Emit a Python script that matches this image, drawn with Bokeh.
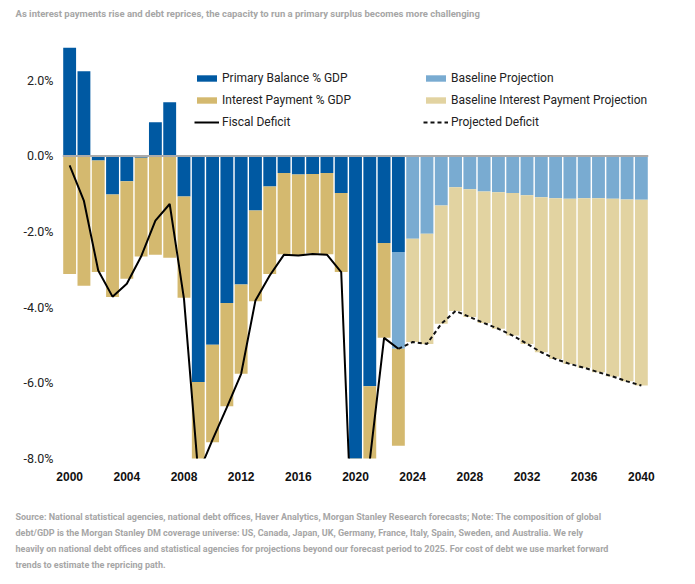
import numpy as np
from bokeh.plotting import figure
from bokeh.models import (Span, Title, Legend, LegendItem, FixedTicker,
                          PrintfTickFormatter, Range1d)
from bokeh.embed import file_html
from bokeh.resources import INLINE

# ---------------- data ----------------
years = list(range(2000, 2041))
actual_years = list(range(2000, 2024))
proj_years = list(range(2023, 2041))
base_int_years = list(range(2024, 2041))

primary_balance = [2.86, 2.24, -0.12, -1.02, -0.67, -0.05, 0.89, 1.42, -1.07, -5.98,
                   -4.99, -3.89, -3.40, -1.44, -0.81, -0.45, -0.49, -0.48, -0.45, -0.98,
                   -10.0, -6.09, -2.30, -2.54]
interest_payment = [3.12, 3.43, 2.95, 2.71, 2.58, 2.61, 2.61, 2.69, 2.68, 2.42,
                    2.58, 2.73, 2.36, 2.40, 2.31, 2.15, 2.13, 2.10, 2.15, 2.09,
                    2.40, 2.00, 2.51, 2.56]
fiscal_deficit = [-0.25, -1.19, -3.03, -3.72, -3.38, -2.66, -1.71, -1.27, -3.78, -8.40,
                  -7.50, -6.65, -5.76, -3.82, -3.16, -2.61, -2.63, -2.59, -2.61, -3.07,
                  -12.4, -8.05, -4.81, -5.10]
baseline_projection = [-2.56, -2.19, -2.06, -1.31, -0.83, -0.88, -0.94, -0.96, -0.98,
                       -1.04, -1.09, -1.12, -1.13, -1.12, -1.12, -1.13, -1.15, -1.16]
baseline_interest = [2.73, 2.91, 3.13, 3.27, 3.38, 3.48, 3.61, 3.77, 3.93,
                     4.10, 4.25, 4.37, 4.48, 4.60, 4.70, 4.81, 4.91]
projected_deficit = [-5.10, -4.92, -4.97, -4.44, -4.10, -4.26, -4.42, -4.57, -4.75,
                     -4.97, -5.19, -5.37, -5.50, -5.60, -5.72, -5.83, -5.96, -6.07]

y_ticks = [-8, -6, -4, -2, 0, 2]
x_ticks = list(range(2000, 2041, 4))

title_text = ("As interest payments rise and debt reprices, the capacity to run a "
              "primary surplus becomes more challenging")
footnote_lines = [
    "Source: National statistical agencies, national debt offices, Haver Analytics, Morgan Stanley Research forecasts; Note: The composition of global",
    "debt/GDP is the Morgan Stanley DM coverage universe: US, Canada, Japan, UK, Germany, France, Italy, Spain, Sweden, and Australia. We rely",
    "heavily on national debt offices and statistical agencies for projections beyond our forecast period to 2025. For cost of debt we use market forward",
    "trends to estimate the repricing path.",
]

# ---------------- stacking (positives up, negatives down) ----------------
idx = {y: i for i, y in enumerate(years)}
pos = np.zeros(len(years))
neg = np.zeros(len(years))


def stack(yrs, vals):
    bottoms, tops = [], []
    for y, v in zip(yrs, vals):
        i = idx[y]
        if v >= 0:
            b = pos[i]; t = b + v; pos[i] = t
        else:
            b = neg[i]; t = b + v; neg[i] = t
        bottoms.append(b); tops.append(t)
    return bottoms, tops


pb_b, pb_t = stack(actual_years, primary_balance)
bp_b, bp_t = stack(proj_years, baseline_projection)
ip_b, ip_t = stack(actual_years, [-v for v in interest_payment])
bi_b, bi_t = stack(base_int_years, [-v for v in baseline_interest])

DARK_BLUE = "#0059a2"
TAN = "#d4b96f"
LIGHT_BLUE = "#79abd1"
LIGHT_TAN = "#e2d3a1"
NOTE_FONT = "Roboto"
NOTE_COLOR = "#a6a6a6"

# ---------------- figure ----------------
p = figure(width=695, height=584, output_backend="svg", toolbar_location=None,
           x_range=Range1d(1999.5, 2040.5), y_range=Range1d(-8, 3),
           min_border_left=62, min_border_right=47, min_border_top=42,
           min_border_bottom=126)
p.outline_line_color = None
p.xgrid.visible = False
p.ygrid.visible = False

W = 0.9
r_pb = p.vbar(x=actual_years, bottom=pb_b, top=pb_t, width=W, fill_color=DARK_BLUE, line_color=None)
r_bp = p.vbar(x=proj_years, bottom=bp_b, top=bp_t, width=W, fill_color=LIGHT_BLUE, line_color=None)
r_ip = p.vbar(x=actual_years, bottom=ip_b, top=ip_t, width=W, fill_color=TAN, line_color=None)
r_bi = p.vbar(x=base_int_years, bottom=bi_b, top=bi_t, width=W, fill_color=LIGHT_TAN, line_color=None)

r_fd = p.line(actual_years, fiscal_deficit, line_color="black", line_width=2)
r_pd = p.line(proj_years, projected_deficit, line_color="#111111", line_width=2, line_dash="4 3")

p.add_layout(Span(location=0, dimension="width", line_color="#ababab", line_width=2))

# axes
for ax in (p.xaxis, p.yaxis):
    ax.axis_line_color = None
    ax.major_tick_line_color = None
    ax.minor_tick_line_color = None
    ax.major_tick_out = 0
    ax.major_tick_in = 0
    ax.minor_tick_out = 0
    ax.minor_tick_in = 0

p.xaxis.ticker = FixedTicker(ticks=x_ticks)
p.xaxis.major_label_text_font = "Liberation Sans"
p.xaxis.major_label_text_font_style = "bold"
p.xaxis.major_label_text_font_size = "12px"
p.xaxis.major_label_text_color = "#111111"
p.xaxis.major_label_standoff = 13

p.yaxis.ticker = FixedTicker(ticks=y_ticks)
p.yaxis.formatter = PrintfTickFormatter(format="%.1f%%")
p.yaxis.major_label_text_font = "Roboto"
p.yaxis.major_label_text_font_size = "12.5px"
p.yaxis.major_label_text_color = "#222222"
p.yaxis.major_label_standoff = 9


# legends
def make_legend(items, loc):
    return Legend(items=items, location=loc, orientation="vertical",
                  glyph_width=25, glyph_height=8, label_height=16, spacing=6,
                  label_standoff=3, padding=0, margin=0,
                  border_line_color=None, background_fill_alpha=0,
                  label_text_font="Roboto", label_text_font_size="12px",
                  label_text_color="#222222")


leg1 = make_legend([LegendItem(label="Primary Balance % GDP", renderers=[r_pb]),
                    LegendItem(label="Interest Payment % GDP", renderers=[r_ip]),
                    LegendItem(label="Fiscal Deficit", renderers=[r_fd])], (132, 328))
leg2 = make_legend([LegendItem(label="Baseline Projection", renderers=[r_bp]),
                    LegendItem(label="Baseline Interest Payment Projection", renderers=[r_bi]),
                    LegendItem(label="Projected Deficit", renderers=[r_pd])], (361, 328))
p.add_layout(leg1)
p.add_layout(leg2)

# title and footnote  (padding tuple order: left, right, top, bottom)
p.add_layout(Title(text=title_text, align="left", offset=-47, standoff=0,
                   padding=(0, 0, 0, 24),
                   text_font=NOTE_FONT, text_font_style="bold",
                   text_font_size="9.5px", text_color=NOTE_COLOR), "above")
for k, line in enumerate(footnote_lines):
    p.add_layout(Title(text=line, align="left", offset=-47, standoff=3.5,
                       padding=((0, 0, 24, 0) if k == 0 else 0),
                       text_font=NOTE_FONT, text_font_style="bold",
                       text_font_size="9px", text_color=NOTE_COLOR), "below")

open("out.html", "w").write(file_html(p, INLINE))
